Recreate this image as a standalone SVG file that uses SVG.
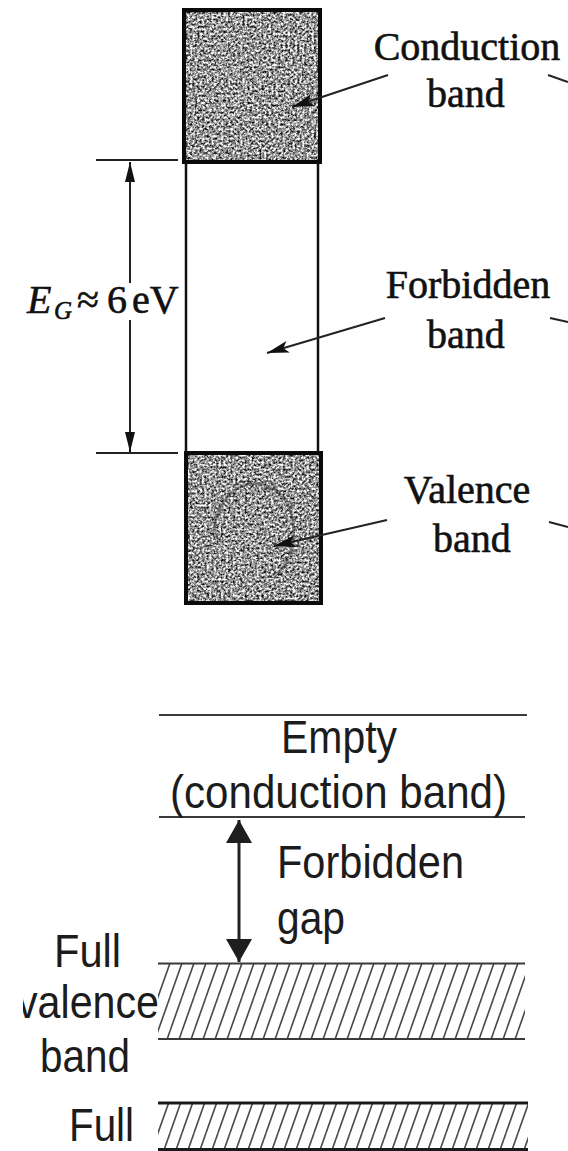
<svg xmlns="http://www.w3.org/2000/svg" width="568" height="1151" viewBox="0 0 568 1151">
  <style>
    .serif { font-family: "Liberation Serif", "DejaVu Serif", serif; font-size: 40px; fill: #111; stroke: #111; stroke-width: 0.6; }
    .sans { font-family: "Liberation Sans", Arial, sans-serif; font-size: 46px; fill: #1c1c1c; }
    .edge { fill: none; stroke: #0a0a0a; stroke-width: 4; }
    .wall { stroke: #111; stroke-width: 2.5; fill: none; }
    .thin { stroke: #222; stroke-width: 2; fill: none; }
    .lead { stroke: #222; stroke-width: 2; fill: none; }
    .level { stroke: #3a3a3a; stroke-width: 2.2; fill: none; }
    .levelb { stroke: #1a1a1a; stroke-width: 3; fill: none; }
    .gaparrow { stroke: #222; stroke-width: 3; fill: none; }
  </style>
  <defs>
    <filter id="grain" filterUnits="objectBoundingBox" x="0" y="0" width="1" height="1" color-interpolation-filters="sRGB">
      <feTurbulence type="fractalNoise" baseFrequency="0.42" numOctaves="3" seed="11" result="n"/>
      <feColorMatrix in="n" type="matrix" values="1.9 0 0 0 -0.36  1.9 0 0 0 -0.36  1.9 0 0 0 -0.36  0 0 0 0 1" result="g"/>
      <feGaussianBlur in="g" stdDeviation="0.35"/>
    </filter>
    <pattern id="hatch" patternUnits="userSpaceOnUse" x="158" y="963" width="12" height="34">
      <path d="M-12,34 L0,0 M0,34 L12,0 M12,34 L24,0" stroke="#4a4a4a" stroke-width="1.6" fill="none"/>
    </pattern>
    <marker id="dim" markerUnits="userSpaceOnUse" viewBox="0 0 20 10" refX="20" refY="5" markerWidth="20" markerHeight="10" orient="auto-start-reverse">
      <path d="M0,0 L20,5 L0,10 z" fill="#111"/>
    </marker>
    <marker id="leadhead" markerUnits="userSpaceOnUse" viewBox="0 0 22 12" refX="22" refY="6" markerWidth="22" markerHeight="12" orient="auto">
      <path d="M0,0 L22,6 L0,12 L5,6 z" fill="#111"/>
    </marker>
    <marker id="big" markerUnits="userSpaceOnUse" viewBox="0 0 23 26" refX="23" refY="13" markerWidth="23" markerHeight="26" orient="auto-start-reverse">
      <path d="M0,0 L23,13 L0,26 z" fill="#1e1e1e"/>
    </marker>
    <clipPath id="cutLeft">
      <rect x="23" y="980" width="150" height="50"/>
    </clipPath>
  </defs>

  <!-- Top diagram: band boxes -->
  <g id="conduction-band">
    <rect x="184" y="10" width="136" height="152" fill="#888" filter="url(#grain)"/>
    <rect x="184" y="10" width="136" height="152" class="edge"/>
  </g>
  <g id="forbidden-band">
    <line x1="186" y1="162" x2="186" y2="453" class="wall"/>
    <line x1="318" y1="162" x2="318" y2="453" class="wall"/>
  </g>
  <g id="valence-band">
    <rect x="186" y="453" width="135" height="150" fill="#888" filter="url(#grain)"/>
    <path d="M215,540 C210,500 245,470 275,490 C300,505 300,560 275,575" stroke="#333" stroke-width="3" fill="none" opacity="0.45"/>
    <rect x="186" y="453" width="135" height="150" class="edge"/>
  </g>

  <g id="labels-top">
    <text class="serif" x="467" y="60" text-anchor="middle">Conduction</text>
    <text class="serif" x="466" y="107" text-anchor="middle">band</text>
    <text class="serif" x="468" y="298" text-anchor="middle">Forbidden</text>
    <text class="serif" x="466" y="348" text-anchor="middle">band</text>
    <text class="serif" x="467" y="503" text-anchor="middle">Valence</text>
    <text class="serif" x="472" y="552" text-anchor="middle">band</text>
  </g>

  <g id="gap-label">
    <text class="serif" y="313"><tspan x="27" font-style="italic">E</tspan><tspan x="54" dy="6" font-style="italic" font-size="25">G</tspan><tspan x="77" dy="-6">≈</tspan><tspan x="107">6</tspan><tspan x="132">eV</tspan></text>
  </g>

  <g id="connectors-top">
    <line x1="96" y1="160" x2="178" y2="160" class="thin"/>
    <line x1="96" y1="453" x2="178" y2="453" class="thin"/>
    <line x1="130" y1="283" x2="130" y2="162" class="thin" marker-end="url(#dim)"/>
    <line x1="130" y1="320" x2="130" y2="452" class="thin" marker-end="url(#dim)"/>
    <line x1="388" y1="75" x2="292" y2="107" class="lead" marker-end="url(#leadhead)"/>
    <line x1="385" y1="318" x2="267" y2="353" class="lead" marker-end="url(#leadhead)"/>
    <line x1="387" y1="520" x2="274" y2="546" class="lead" marker-end="url(#leadhead)"/>
    <line x1="548" y1="75" x2="568" y2="82" class="lead"/>
    <line x1="550" y1="318" x2="568" y2="322" class="lead"/>
    <line x1="549" y1="522" x2="568" y2="527" class="lead"/>
  </g>

  <!-- Bottom diagram -->
  <g id="conduction-level">
    <line x1="159" y1="715" x2="527" y2="715" class="level"/>
    <line x1="159" y1="817" x2="525" y2="817" class="level"/>
    <text class="sans" x="281" y="753" textLength="116" lengthAdjust="spacingAndGlyphs">Empty</text>
    <text class="sans" x="170" y="808" textLength="337" lengthAdjust="spacingAndGlyphs">(conduction band)</text>
  </g>

  <g id="gap-text">
    <text class="sans" x="277" y="878" textLength="187" lengthAdjust="spacingAndGlyphs">Forbidden</text>
    <text class="sans" x="277" y="934" textLength="68" lengthAdjust="spacingAndGlyphs">gap</text>
  </g>

  <g id="valence-level">
    <rect x="158" y="963" width="367" height="76" fill="url(#hatch)"/>
    <line x1="158" y1="963.5" x2="525" y2="963.5" class="level"/>
    <line x1="158" y1="1039" x2="525" y2="1039" class="level"/>
    <text class="sans" x="54" y="967" textLength="67" lengthAdjust="spacingAndGlyphs">Full</text>
    <text class="sans" x="17" y="1018" textLength="142" lengthAdjust="spacingAndGlyphs" clip-path="url(#cutLeft)">valence</text>
    <text class="sans" x="40" y="1072" textLength="90" lengthAdjust="spacingAndGlyphs">band</text>
  </g>

  <g id="full-level">
    <rect x="158" y="1103" width="370" height="46" fill="url(#hatch)"/>
    <line x1="158" y1="1103" x2="528" y2="1103" class="levelb"/>
    <line x1="158" y1="1149.5" x2="528" y2="1149.5" class="levelb"/>
    <text class="sans" x="69" y="1141" textLength="65" lengthAdjust="spacingAndGlyphs">Full</text>
  </g>

  <g id="connectors-bottom">
    <line x1="239" y1="820" x2="239" y2="962" class="gaparrow" marker-start="url(#big)" marker-end="url(#big)"/>
  </g>
</svg>
